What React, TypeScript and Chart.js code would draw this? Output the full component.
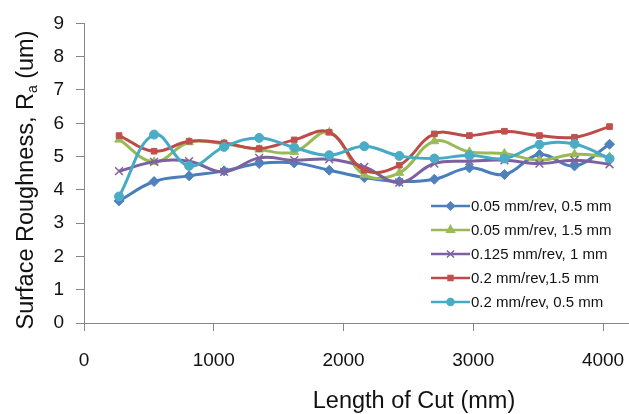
import React, { useEffect, useRef } from 'react';
import { Chart, registerables } from 'chart.js';
import { drawPoint } from 'chart.js/helpers';

Chart.register(...registerables);

// ---- data ----
const lengthOfCut = [270, 540, 810, 1080, 1350, 1620, 1890, 2160, 2430, 2700, 2970, 3240, 3510, 3780, 4050];

const seriesLabels = [
  '0.05 mm/rev, 0.5 mm',
  '0.05 mm/rev, 1.5 mm',
  '0.125 mm/rev, 1 mm',
  '0.2 mm/rev,1.5 mm',
  '0.2 mm/rev, 0.5 mm',
];

const feed005doc05 = [3.67, 4.25, 4.42, 4.57, 4.79, 4.81, 4.59, 4.37, 4.25, 4.32, 4.66, 4.46, 5.06, 4.72, 5.37];
const feed005doc15 = [5.51, 4.84, 5.43, 5.38, 5.21, 5.14, 5.73, 4.45, 4.51, 5.46, 5.14, 5.09, 4.89, 5.07, 4.99];
const feed0125doc1 = [4.56, 4.84, 4.86, 4.54, 4.96, 4.89, 4.92, 4.69, 4.22, 4.79, 4.86, 4.89, 4.79, 4.89, 4.77];
const feed02doc15 = [5.63, 5.16, 5.46, 5.41, 5.24, 5.50, 5.73, 4.59, 4.74, 5.68, 5.63, 5.76, 5.63, 5.58, 5.90];
const feed02doc05 = [3.80, 5.66, 4.72, 5.29, 5.56, 5.27, 5.04, 5.31, 5.02, 4.94, 5.04, 4.94, 5.36, 5.38, 4.94];

const xTickValues = [0, 1000, 2000, 3000, 4000];
const yTickValues = [0, 1, 2, 3, 4, 5, 6, 7, 8, 9];

const xTitle = 'Length of Cut (mm)';
const yTitleMain = 'Surface Roughness, R';
const yTitleSub = 'a';
const yTitleEnd = ' (um)';

const seriesValues = [feed005doc05, feed005doc15, feed0125doc1, feed02doc15, feed02doc05];
const lineColors = ['#4A7EBB', '#98B954', '#7D60A0', '#BE4B48', '#46AAC5'];
const markerColors = ['#4F81BD', '#9BBB59', '#8064A2', '#C0504D', '#4BACC6'];
const markerStyles = ['rectRot', 'triangle', 'crossRot', 'rect', 'circle'];
const markerRadius = [5, 5, 5.5, 4, 4.5];
const legendRadius = [4, 4.5, 5, 3.5, 3.5];

const FONT = '"Liberation Sans", Arial, sans-serif';
const TEXT = '#111111';
const AXIS = '#868686';

const overlayPlugin = {
  id: 'overlay',
  afterDraw(chart: any) {
    const ctx = chart.ctx as CanvasRenderingContext2D;
    ctx.save();
    ctx.fillStyle = TEXT;
    // x title
    ctx.font = `23.5px ${FONT}`;
    ctx.textAlign = 'center';
    ctx.textBaseline = 'alphabetic';
    ctx.fillText(xTitle, 414, 408);

    // y title with subscript
    ctx.save();
    ctx.translate(33, 180);
    ctx.rotate(-Math.PI / 2);
    ctx.textAlign = 'left';
    ctx.font = `23.5px ${FONT}`;
    const w1 = ctx.measureText(yTitleMain).width;
    const w3 = ctx.measureText(yTitleEnd).width;
    ctx.font = `14px ${FONT}`;
    const w2 = ctx.measureText(yTitleSub).width;
    let x = -(w1 + w2 + w3) / 2;
    ctx.font = `23.5px ${FONT}`;
    ctx.fillText(yTitleMain, x, 0);
    x += w1;
    ctx.font = `14px ${FONT}`;
    ctx.fillText(yTitleSub, x, 4);
    x += w2;
    ctx.font = `23.5px ${FONT}`;
    ctx.fillText(yTitleEnd, x, 0);
    ctx.restore();

    // legend
    const rowY = [206, 230, 254, 278, 302];
    ctx.font = `15px ${FONT}`;
    ctx.textAlign = 'left';
    ctx.textBaseline = 'middle';
    seriesLabels.forEach((label, i) => {
      const y = rowY[i];
      ctx.strokeStyle = lineColors[i];
      ctx.lineWidth = 2.5;
      ctx.beginPath();
      ctx.moveTo(431, y);
      ctx.lineTo(470, y);
      ctx.stroke();
      ctx.fillStyle = markerColors[i];
      ctx.strokeStyle = markerColors[i];
      ctx.lineWidth = 1.5;
      drawPoint(ctx, { pointStyle: markerStyles[i] as any, radius: legendRadius[i], rotation: 0, borderWidth: 1.5 }, 450.5, y);
      ctx.fillStyle = TEXT;
      ctx.fillText(label, 471, y + 1);
    });
    ctx.restore();
  },
};

export default function App() {
  const ref = useRef<HTMLCanvasElement | null>(null);

  useEffect(() => {
    if (!ref.current) return;
    const datasets = seriesValues.map((vals, i) => ({
      label: seriesLabels[i],
      data: vals.map((v, j) => ({ x: lengthOfCut[j], y: v })),
      borderColor: lineColors[i],
      backgroundColor: markerColors[i],
      pointBorderColor: markerColors[i],
      pointBackgroundColor: markerColors[i],
      pointStyle: markerStyles[i],
      pointRadius: markerRadius[i],
      pointBorderWidth: markerStyles[i] === 'crossRot' ? 1.5 : 1,
      borderWidth: 3,
      tension: 0.4,
      fill: false,
      order: seriesValues.length - i,
    }));

    const chart = new Chart(ref.current, {
      type: 'line',
      data: { datasets },
      plugins: [overlayPlugin],
      options: {
        animation: false,
        responsive: false,
        devicePixelRatio: 1,
        layout: { autoPadding: false, padding: { top: 20, right: 0, bottom: 0, left: 0 } },
        plugins: { legend: { display: false }, tooltip: { enabled: false } },
        scales: {
          x: {
            type: 'linear',
            min: 0,
            max: 4200,
            afterBuildTicks: (s: any) => {
              s.ticks = xTickValues.map((v) => ({ value: v }));
            },
            afterFit: (s: any) => {
              s.height = 91;
              s.paddingRight = 0;
            },
            ticks: {
              color: TEXT,
              font: { family: FONT, size: 19 },
              padding: 18,
              maxRotation: 0,
              callback: (v: any) => String(v),
            },
            grid: { drawOnChartArea: false, drawTicks: true, tickLength: 8, color: AXIS, lineWidth: 1 },
            border: { display: true, color: AXIS, width: 1 },
          },
          y: {
            type: 'linear',
            min: 0,
            max: 9,
            afterBuildTicks: (s: any) => {
              s.ticks = yTickValues.map((v) => ({ value: v }));
            },
            afterFit: (s: any) => {
              s.width = 84;
            },
            ticks: {
              color: TEXT,
              font: { family: FONT, size: 19 },
              padding: 12,
              callback: (v: any) => String(v),
            },
            grid: { drawOnChartArea: false, drawTicks: true, tickLength: 8, color: AXIS, lineWidth: 1 },
            border: { display: true, color: AXIS, width: 1 },
          },
        },
      },
    } as any);
    return () => chart.destroy();
  }, []);

  return (
    <div style={{ position: 'fixed', left: 0, top: 0, width: 629, height: 414, background: '#fff' }}>
      <canvas ref={ref} width={629} height={414} style={{ display: 'block' }} />
    </div>
  );
}
